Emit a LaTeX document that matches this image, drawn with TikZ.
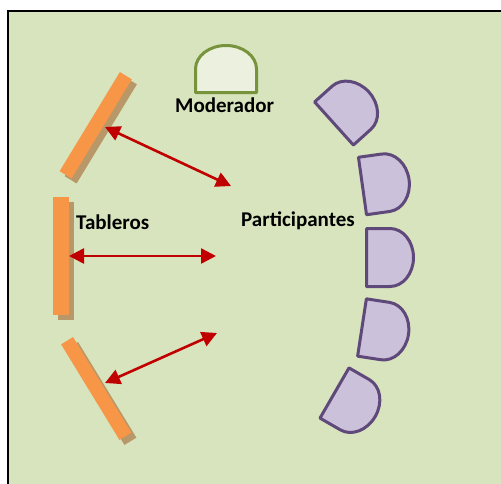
\documentclass[tikz,border=0pt]{standalone}
\usepackage{fontspec}
\setmainfont{Carlito}
\usetikzlibrary{arrows.meta}

\definecolor{bgpaper}{HTML}{D7E4BD}
\definecolor{boardorange}{HTML}{F79646}
\definecolor{boardshade}{HTML}{B89768}
\definecolor{seatfill}{HTML}{CCC1DA}
\definecolor{seatline}{HTML}{5F497A}
\definecolor{modfill}{HTML}{EBF1DE}
\definecolor{modline}{HTML}{77933C}
\definecolor{linkred}{HTML}{C00000}

\tikzset{
  board/.style={rectangle, fill=boardorange, inner sep=0pt, outer sep=0pt},
  boardshadow/.style={rectangle, fill=boardshade, inner sep=0pt, outer sep=0pt},
  label/.style={font=\bfseries\fontsize{21}{24}\selectfont, inner sep=0pt, anchor=base west},
  link/.style={draw=linkred, line width=2.6pt, {Triangle[length=15pt,width=15pt]}-{Triangle[length=15pt,width=15pt]}},
  % D-shaped seat: flat side through the origin, rounded side towards +x
  pics/seat/.style n args={4}{code={
    \draw[fill=#3, draw=#4, line width=3pt, line join=round]
      (0,-#1/2) -- (#2/2,-#1/2)
      arc[start angle=-90, end angle=90, x radius=#2/2, y radius=#1/2]
      -- (0,#1/2) -- cycle;
  }}
}

\begin{document}
\begin{tikzpicture}[x=1pt, y=-1pt]
  \useasboundingbox (0,0) rectangle (501,483);
  \clip (0,0) rectangle (501,483);

  % room
  \draw[fill=bgpaper, draw=black, line width=2pt] (8,11) rectangle (520,500);

  % boards (shadow first, then the board)
  \node[boardshadow, rotate=58.7, minimum width=116pt, minimum height=14pt] (b1s) at (100.75,130.25) {};
  \node[board, rotate=58.7, minimum width=116pt, minimum height=14pt] (b1) at (95.75,125.25) {};
  \node[boardshadow, minimum width=16pt, minimum height=118pt] (b2s) at (66,261) {};
  \node[board, minimum width=16pt, minimum height=118pt] (b2) at (61,256) {};
  \node[boardshadow, rotate=-58.6, minimum width=112pt, minimum height=14pt] (b3s) at (101.25,393.5) {};
  \node[board, rotate=-58.6, minimum width=112pt, minimum height=14pt] (b3) at (96.25,388.5) {};

  % moderator
  \pic[rotate=90] at (226,92.5) {seat={61}{47}{modfill}{modline}};

  % participants
  \pic[rotate=42]   at (334,123.5) {seat={58}{47}{seatfill}{seatline}};
  \pic[rotate=8]    at (362.5,186) {seat={58}{47}{seatfill}{seatline}};
  \pic              at (366.5,257.5) {seat={58}{47}{seatfill}{seatline}};
  \pic[rotate=-8.7] at (362,327.5) {seat={58}{47}{seatfill}{seatline}};
  \pic[rotate=-30]  at (334.5,393) {seat={58}{47}{seatfill}{seatline}};

  % labels
  \node[label] (mod) at (175,112) {Moderador};
  \node[label] (tab) at (76,229) {Tableros};
  \node[label] (par) at (241,226) {Participantes};

  % links between boards and participants
  \coordinate (t1) at (105,127);
  \coordinate (p1) at (231,186);
  \coordinate (t2) at (69,256);
  \coordinate (p2) at (216,256);
  \coordinate (t3) at (105,383);
  \coordinate (p3) at (217,333);
  \draw[link] (t1) -- (p1);
  \draw[link] (t2) -- (p2);
  \draw[link] (t3) -- (p3);
\end{tikzpicture}
\end{document}
